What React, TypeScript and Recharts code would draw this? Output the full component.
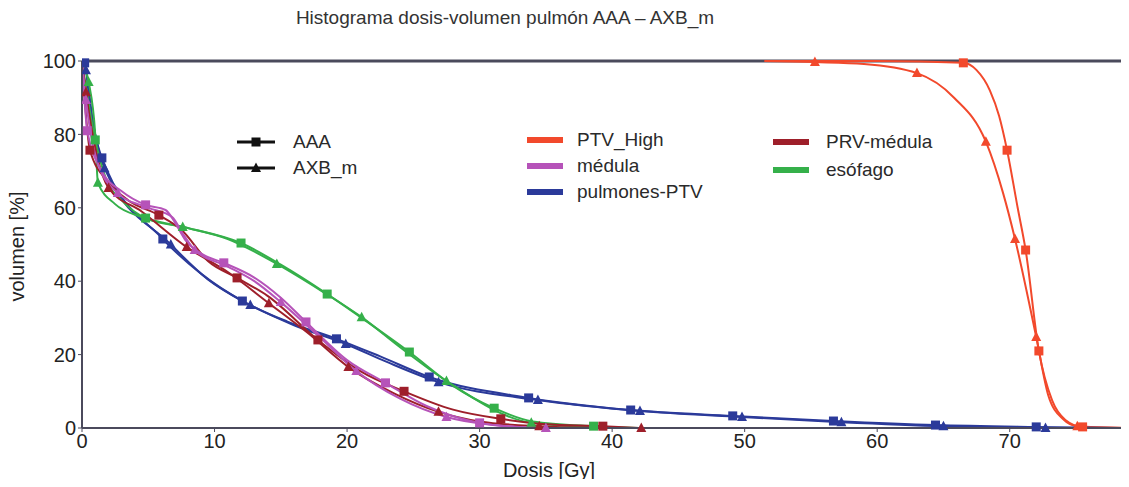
import React from "react";
import { LineChart, Line, XAxis, YAxis, ReferenceLine } from "recharts";

type Pt = [number, number, number?];

// dose [Gy], volume [%], 1 = marker drawn
const ptvAAA: Pt[] = [[51.5, 100], [60, 100], [66.5, 99.5, 1], [67.5, 97.5], [68.5, 92], [69.2, 85], [69.8, 75.7, 1], [70.6, 60], [71.2, 48.5, 1], [72.2, 21, 1], [73.2, 7.5], [74.2, 2.2], [75.5, 0.3, 1], [79, 0]];
const ptvAXB: Pt[] = [[51.5, 100], [55.3, 99.7, 1], [59, 99.2], [63, 96.7, 1], [65.8, 90], [68.2, 78, 1], [69.5, 64], [70.4, 51.5, 1], [72, 24.8, 1], [72.9, 9], [74, 2.5], [75.1, 0.5, 1], [79, 0]];

const medulaAAA: Pt[] = [[0, 100], [0.4, 81, 1], [1.5, 70], [3, 64.5], [4.8, 60.8, 1], [6.3, 59.4], [7.0, 56.1], [7.8, 51.2], [9, 47.5], [10.7, 45, 1], [13, 41], [15, 35.5], [16.9, 28.9, 1], [20, 18.5], [22.9, 12.3, 1], [26, 6], [30, 1.4, 1], [33, 0.3], [36, 0]];
const medulaAXB: Pt[] = [[0, 100], [0.3, 89.4, 1], [1.2, 72], [2.7, 64, 1], [5, 60], [6.8, 57.5], [7.6, 53], [8.5, 48.5, 1], [11, 44], [13, 40], [15, 34.3, 1], [18, 24.5], [20.7, 15.5, 1], [24, 8], [27.5, 3, 1], [31, 0.8], [35, 0, 1], [38, 0]];

const pulmonesAAA: Pt[] = [[0, 100], [0.2, 99.5, 1], [0.6, 88], [1.5, 73.6, 1], [6.1, 51.5, 1], [9, 42], [12.1, 34.6, 1], [15.5, 29], [19.2, 24.3, 1], [22.5, 19.5], [26.2, 13.9, 1], [33.7, 8.2, 1], [41.4, 4.9, 1], [49.1, 3.3, 1], [56.7, 1.9, 1], [64.4, 0.8, 1], [72, 0.3, 1], [79, 0]];
const pulmonesAXB: Pt[] = [[0, 100], [0.3, 97.5, 1], [0.8, 84], [1.7, 70.8, 1], [6.7, 50, 1], [9.5, 40.5], [12.7, 33.5, 1], [16, 28], [19.9, 22.9, 1], [23, 18], [26.9, 12.5, 1], [34.4, 7.6, 1], [42.1, 4.6, 1], [49.8, 3, 1], [57.3, 1.6, 1], [65, 0.5, 1], [72.7, 0, 1], [79, 0]];

const prvAAA: Pt[] = [[0, 100], [0.6, 75.7, 1], [2, 67], [3.5, 62], [5.8, 58, 1], [7.5, 54], [9.5, 45.5], [11.7, 40.9, 1], [14, 36], [17.8, 24, 1], [21, 15.5], [24.3, 10, 1], [28, 5], [31.6, 2.5, 1], [35, 1], [39.3, 0.5, 1], [42, 0]];
const prvAXB: Pt[] = [[0, 100], [0.3, 91.5, 1], [2, 65.4, 1], [4.5, 59], [7.9, 49.3, 1], [11, 42.5], [14.1, 34, 1], [17, 26], [20.1, 16.6, 1], [23.5, 9.5], [26.9, 4.4, 1], [30, 1.8], [34.5, 0.5, 1], [38, 0.1], [42.2, 0, 1]];

const esofagoAAA: Pt[] = [[0, 100], [1, 78.5, 1], [1.8, 68], [3, 62], [4.8, 57.2, 1], [8, 54.5], [12, 50.4, 1], [15, 44.5], [18.5, 36.5, 1], [21.5, 29], [24.7, 20.7, 1], [28, 11.5], [31.1, 5.4, 1], [34, 1.8], [38.6, 0.5, 1], [42, 0]];
const esofagoAXB: Pt[] = [[0, 100], [0.5, 94.3, 1], [1.0, 80], [1.2, 66.8, 1], [2.5, 61], [4.5, 57.5], [7.6, 54.8, 1], [11, 51.5], [14.7, 44.7, 1], [18, 37.5], [21.1, 30.2, 1], [24, 22], [27.5, 12.8, 1], [33.9, 1.4, 1], [38, 0.3], [41, 0]];

const xTicks = [0, 10, 20, 30, 40, 50, 60, 70];
const yTicks = [0, 20, 40, 60, 80, 100];

const COLORS = {
  ptv: "#f2492c",
  medula: "#b653b9",
  pulmones: "#2b3a9a",
  prv: "#9e1f2a",
  esofago: "#35b04a",
};

const FONT = "'Liberation Sans', Arial, sans-serif";
const AXIS = "#4b4a5c";

const toData = (pts: Pt[]) => pts.map(([x, y, m]) => ({ x, y, m: !!m }));

const markerDot = (shape: "square" | "triangle", color: string) => (props: any) => {
  const { cx, cy, payload, index } = props;
  if (!payload || !payload.m) return <g key={index} />;
  if (shape === "square") {
    return <rect key={index} x={cx - 4.5} y={cy - 4.5} width={9} height={9} fill={color} />;
  }
  return <polygon key={index} points={`${cx},${cy - 5.5} ${cx + 5},${cy + 4} ${cx - 5},${cy + 4}`} fill={color} />;
};

const series = [
  { id: "ptvAAA", pts: ptvAAA, color: COLORS.ptv, shape: "square" as const },
  { id: "ptvAXB", pts: ptvAXB, color: COLORS.ptv, shape: "triangle" as const },
  { id: "pulmonesAAA", pts: pulmonesAAA, color: COLORS.pulmones, shape: "square" as const },
  { id: "pulmonesAXB", pts: pulmonesAXB, color: COLORS.pulmones, shape: "triangle" as const },
  { id: "esofagoAAA", pts: esofagoAAA, color: COLORS.esofago, shape: "square" as const },
  { id: "esofagoAXB", pts: esofagoAXB, color: COLORS.esofago, shape: "triangle" as const },
  { id: "prvAAA", pts: prvAAA, color: COLORS.prv, shape: "square" as const },
  { id: "prvAXB", pts: prvAXB, color: COLORS.prv, shape: "triangle" as const },
  { id: "medulaAAA", pts: medulaAAA, color: COLORS.medula, shape: "square" as const },
  { id: "medulaAXB", pts: medulaAXB, color: COLORS.medula, shape: "triangle" as const },
];

const textStyle: React.CSSProperties = {
  position: "absolute",
  fontFamily: FONT,
  fontSize: 19,
  lineHeight: "22px",
  color: "#2a2a2a",
  whiteSpace: "nowrap",
};

function SwatchLine({ left, top, color }: { left: number; top: number; color: string }) {
  return <div style={{ position: "absolute", left, top: top - 3, width: 36, height: 6, background: color }} />;
}

function MarkerIcon({ left, top, shape }: { left: number; top: number; shape: "square" | "triangle" }) {
  return (
    <svg style={{ position: "absolute", left, top: top - 7 }} width={38} height={14}>
      <line x1={0} y1={7} x2={38} y2={7} stroke="#111" strokeWidth={3} />
      {shape === "square" ? (
        <rect x={14.5} y={2.5} width={9} height={9} fill="#111" />
      ) : (
        <polygon points="19,1.5 24,11 14,11" fill="#111" />
      )}
    </svg>
  );
}

const xLabel = (props: any) => {
  const { x, y } = props.viewBox;
  return (
    <text x={x + 467} y={y + 49} textAnchor="middle" fontSize={20} fill="#222" fontFamily={FONT}>
      Dosis [Gy]
    </text>
  );
};

const yLabel = (props: any) => {
  const { y, height } = props.viewBox;
  const cx = 24;
  const cy = y + height / 2 + 2;
  return (
    <text x={cx} y={cy} transform={`rotate(-90 ${cx} ${cy})`} textAnchor="middle" fontSize={20} fill="#222" fontFamily={FONT}>
      volumen [%]
    </text>
  );
};

export default function App() {
  return (
    <div style={{ position: "relative", width: 1129, height: 487, margin: -8, background: "#fff" }}>
      <LineChart width={1129} height={487} margin={{ top: 61, right: 0, bottom: 0, left: 0 }}>
        <XAxis
          type="number"
          dataKey="x"
          domain={[0, 79]}
          ticks={xTicks}
          allowDataOverflow
          height={59}
          axisLine={{ stroke: AXIS, strokeWidth: 2 }}
          tickLine={{ stroke: AXIS }}
          tickSize={4}
          tick={{ fontSize: 20, fill: "#222", fontFamily: FONT }}
          label={xLabel}
        />
        <YAxis
          type="number"
          domain={[0, 100]}
          ticks={yTicks}
          width={82}
          axisLine={{ stroke: AXIS, strokeWidth: 2 }}
          tickLine={{ stroke: AXIS }}
          tickSize={4}
          tick={{ fontSize: 20, fill: "#222", fontFamily: FONT }}
          label={yLabel}
        />
        <ReferenceLine y={100} stroke={AXIS} strokeWidth={3} />
        {series.map((s) => (
          <Line
            key={s.id}
            data={toData(s.pts)}
            dataKey="y"
            type="monotoneX"
            stroke={s.color}
            strokeWidth={2}
            dot={markerDot(s.shape, s.color)}
            activeDot={false}
            isAnimationActive={false}
          />
        ))}
      </LineChart>

      <div style={{ ...textStyle, left: 0, width: 1010, top: 7, textAlign: "center", color: "#333" }}>
        Histograma dosis-volumen pulmón AAA – AXB_m
      </div>

      <MarkerIcon left={237} top={142} shape="square" />
      <div style={{ ...textStyle, left: 293, top: 131 }}>AAA</div>
      <MarkerIcon left={237} top={168} shape="triangle" />
      <div style={{ ...textStyle, left: 293, top: 157 }}>AXB_m</div>

      <SwatchLine left={527} top={140} color={COLORS.ptv} />
      <div style={{ ...textStyle, left: 577, top: 129 }}>PTV_High</div>
      <SwatchLine left={527} top={166} color={COLORS.medula} />
      <div style={{ ...textStyle, left: 577, top: 155 }}>médula</div>
      <SwatchLine left={527} top={192} color={COLORS.pulmones} />
      <div style={{ ...textStyle, left: 577, top: 181 }}>pulmones-PTV</div>

      <SwatchLine left={773} top={142} color={COLORS.prv} />
      <div style={{ ...textStyle, left: 826, top: 131 }}>PRV-médula</div>
      <SwatchLine left={773} top={170} color={COLORS.esofago} />
      <div style={{ ...textStyle, left: 826, top: 159 }}>esófago</div>
    </div>
  );
}
